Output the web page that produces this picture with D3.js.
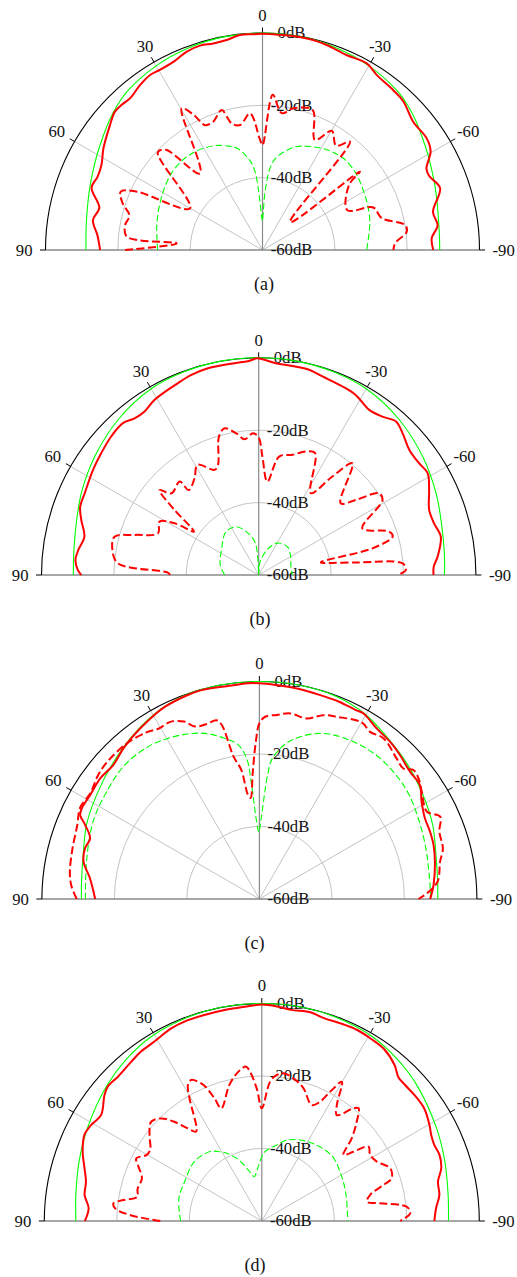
<!DOCTYPE html>
<html>
<head>
<meta charset="utf-8">
<script src="https://cdn.jsdelivr.net/npm/d3@7"></script>
<style>
  body { margin: 0; background: #fff; }
  svg text { font-family: "Liberation Serif", "Times New Roman", Times, serif; fill: #111; }
</style>
</head>
<body>
<div id="chart"></div>
<script>
// tick values
const dbTicks = [0, -20, -40, -60];
const angTicks = [90, 60, 30, 0, -30, -60, -90];
const spokeAngles = [60, 30, -30, -60];

// series: [angle in deg, level in dB], listed from 90 (left) to -90 (right)
const greenSolidA = [[90,-11.2],[85,-11],[80,-10.6],[75,-10],[70,-9.2],[65,-8.3],[60,-7.2],[55,-6],[50,-4.6],[45,-3.3],[40,-2.3],[30,-1.2],[20,-0.5],[10,-0.1],[0,0],[-10,-0.1],[-20,-0.5],[-30,-1.2],[-40,-2.3],[-45,-3.3],[-50,-4.6],[-55,-6],[-60,-7.2],[-65,-8.3],[-70,-9.2],[-75,-10],[-80,-10.6],[-85,-10.9],[-90,-11]];
const redSolidA = [[90,-15.1],[85,-14.2],[80,-12.4],[75.5,-13.4],[70,-9.7],[66,-10.1],[62,-9.6],[57.4,-7.8],[50.7,-5.5],[47,-4.1],[44,-4.1],[41,-4.3],[36.6,-3.2],[32.7,-2.5],[29.7,-2.7],[25,-2.4],[21,-1.3],[17,-0.9],[13.4,-1.3],[9.7,-1.1],[6,-0.2],[2.4,-0.3],[0,-0.2],[-2.9,-0.3],[-8.2,-0.2],[-13.6,-0.3],[-17.4,-0.6],[-23.3,-1.3],[-29.2,-0.9],[-33.1,-2.2],[-39.3,-2.9],[-43.5,-3.4],[-49.6,-5.3],[-55.8,-5.1],[-59.6,-6.1],[-63.6,-9.4],[-66,-9.6],[-70.8,-8],[-77.4,-11.7],[-82,-11.1],[-86,-13.1],[-90,-12.8]];
const greenDashA = [[90,-31],[76,-29.9],[65,-28.8],[55,-27.6],[45,-26.8],[35,-27],[25,-28.2],[18,-29.8],[14,-31],[10,-33.5],[7.5,-35.5],[5.3,-38.5],[3,-46.5],[1,-51.5],[0,-52],[-1.2,-49.4],[-2.5,-44],[-5.2,-37.3],[-8,-34.5],[-12.2,-32.3],[-18,-30],[-24.7,-28.5],[-33,-27],[-41.4,-26.2],[-50,-26.5],[-55,-27.1],[-65,-28.2],[-75.2,-29.3],[-90,-31.2]];
const redDashA = [[90,-22],[85.6,-36.2],[84.4,-22.3],[79.7,-21.4],[75.5,-22],[71.5,-19.2],[67.6,-17.6],[65.1,-21.7],[60.1,-36.9],[47,-20.4],[44,-21.5],[39.2,-32.7],[29.7,-14.9],[27,-18],[24.7,-22],[21,-22],[16.3,-19.7],[13.7,-24],[10.2,-24.9],[5.2,-22.1],[1.3,-29.5],[0,-31],[-3.8,-17],[-8,-21.8],[-12.3,-19.9],[-19.7,-18.9],[-25.5,-26.3],[-30.2,-21.9],[-35.2,-24.7],[-38.9,-21.5],[-44.8,-49.2],[-51.2,-25.4],[-53,-30],[-64.8,-34.1],[-69,-27.2],[-75,-25.9],[-80,-20],[-82.8,-19.8],[-87.1,-23.3],[-90,-23.8]];

const greenSolidB = [[90,-8.8],[84,-8.6],[74,-7.6],[65,-6],[54,-4.1],[42,-2.1],[30,-0.6],[20,-0.2],[10,0],[0,0],[-10,0],[-20,-0.2],[-30,-0.6],[-42,-2.1],[-54,-4.1],[-65,-6],[-74,-7.5],[-84,-8.4],[-90,-8.7]];
const redSolidB = [[90,-11],[88.4,-10],[85.3,-9.2],[82.1,-9.7],[77.6,-10.7],[72.8,-8.7],[69.1,-7.2],[64.9,-6.9],[57.6,-5.8],[52.3,-5],[46.8,-4.1],[41.8,-3.7],[38.4,-4.8],[34.9,-4.9],[30.7,-3.7],[22.8,-2.5],[18.6,-1.7],[13.8,-1.2],[6.5,-1.1],[2.9,-0.9],[0.4,-0.1],[-1,-0.4],[-4.6,-1.3],[-9.2,-1.5],[-13.8,-1.6],[-17.8,-2.4],[-24,-3],[-28.3,-3.5],[-33.8,-5.1],[-38,-4.5],[-41.8,-3.1],[-45.4,-4.2],[-50.3,-5.9],[-55.1,-6],[-58.9,-5.5],[-63.5,-7.4],[-69.1,-9.6],[-73.6,-9.5],[-78.1,-8.6],[-84.1,-10.3],[-87.3,-11.6],[-90,-11.7]];
const greenDashB = [[90,-50.6],[75,-49],[56,-47.6],[37,-45],[24,-45.5],[12,-48.8],[6,-51.2],[3,-55.5],[0,-60],[-4,-57],[-7.6,-55.8],[-18.6,-52.6],[-30.2,-49.8],[-45.3,-48.9],[-60,-49.8],[-75,-50.8],[-90,-50.7]];
const redDashB = [[90,-35.5],[88.5,-34.9],[85.3,-21],[80.3,-19],[75.1,-18.8],[72.1,-24],[67.5,-29.9],[61.7,-28.9],[58.4,-32.7],[56.2,-38.5],[52.3,-30.6],[49.4,-23.9],[46.9,-27],[40.2,-26.2],[39.5,-29.6],[33.5,-27.9],[29.1,-25.2],[22.7,-28.5],[20.3,-27.6],[16,-20.2],[13.1,-18.4],[9,-20.4],[5.9,-22.3],[2.3,-20.8],[0,-22],[-1.8,-27.3],[-5.3,-34.1],[-9.8,-26.8],[-15.7,-25.5],[-20.9,-23.5],[-24.8,-22.9],[-32.5,-33.2],[-36.8,-26],[-40,-19.7],[-48.8,-29.9],[-52.3,-26.1],[-55.8,-19.8],[-58.8,-20],[-65.8,-28.6],[-71.6,-22],[-74,-21.5],[-76.8,-27.7],[-78.5,-42.5],[-82.6,-33],[-85.4,-20.1],[-88,-19.3],[-90,-21.5]];

const greenSolidC = [[90,-10.9],[84.4,-10.7],[76,-9.9],[66.8,-8.1],[57.4,-6.7],[47.8,-5],[38.5,-3.1],[29.4,-1.3],[20,-0.2],[10,0],[0,0],[-10,0],[-20,-0.2],[-29.4,-1.2],[-38.5,-3.2],[-47.8,-4.8],[-57.4,-6.5],[-66.8,-8],[-76,-9.8],[-84.4,-10.6],[-90,-10.8]];
const redSolidC = [[90,-14.7],[83,-12.9],[78,-10.4],[73.8,-9.9],[70.3,-10.4],[67,-7.8],[64.9,-5.4],[63,-5],[58.4,-5.2],[52.9,-4.9],[47.5,-5.3],[42,-4],[35,-2.6],[30,-1.6],[26,-0.9],[20,-0.4],[15.5,-0.2],[6.5,-0.6],[3,-0.4],[0,-0.5],[-4.4,-0.8],[-9.8,-1],[-17.3,-1.3],[-22,-1.3],[-27,-1.5],[-29.3,-1.3],[-34.5,-2.9],[-39.7,-3.6],[-44.3,-4.5],[-49.8,-5.6],[-54.6,-5.7],[-59,-7.8],[-64,-9.2],[-68.5,-9.4],[-72.8,-9.7],[-78,-10.5],[-85.4,-11.8],[-90,-12.9]];
const greenDashC = [[90,-12],[77.8,-11.2],[65,-9.4],[54.9,-8.5],[45.1,-7.6],[35,-8.1],[25.4,-9.9],[18.2,-11.9],[12.1,-14.7],[7.8,-17.1],[5.2,-21],[3.9,-28.5],[2.6,-36.8],[0.5,-41.6],[-0.5,-40],[-2,-35],[-3.8,-25.7],[-5.3,-21],[-10.7,-15.8],[-19.9,-11.4],[-29.5,-9.6],[-39,-8.9],[-47.7,-9.1],[-55.2,-9.7],[-64.2,-11],[-73.1,-12],[-82,-12.7],[-90,-12.7]];
const redDashC = [[90,-9.6],[86,-8],[82,-7.2],[75,-6.6],[68,-5.8],[63,-4.5],[58,-5],[52.5,-3.9],[48,-3.5],[40.5,-3.6],[34,-4.5],[30.5,-5.4],[26.7,-5.3],[23,-6.8],[20.5,-9.2],[17,-9.6],[13.5,-9.3],[12.2,-10.9],[10.3,-20],[8,-24],[6.3,-31],[5,-32],[3,-25],[1.3,-16.6],[0,-11.5],[-1.8,-9.7],[-5.4,-9],[-9.4,-8.1],[-14.7,-8.5],[-19.2,-6.3],[-23,-5.4],[-30.1,-3.7],[-33.5,-4.7],[-37.7,-4],[-44.3,-5.8],[-47.8,-6.4],[-50,-4.6],[-52.8,-4.9],[-56.5,-6.3],[-62.4,-7.9],[-65.5,-5.2],[-69.5,-7],[-74.6,-7.5],[-78.3,-9.1],[-84.4,-10.6],[-88.1,-13.8],[-90,-16.1]];

const greenSolidD = [[90,-8.7],[82,-8.2],[72,-7],[62,-5.5],[48.6,-3.2],[40,-1.8],[31,-0.7],[20,-0.2],[10,0],[0,0],[-10,0],[-20,-0.2],[-31,-0.7],[-40,-1.8],[-48.6,-3.1],[-62,-5.4],[-72,-6.9],[-82,-8.1],[-90,-8.5]];
const redSolidD = [[90,-11.2],[85.8,-12.1],[81.7,-10.6],[77.4,-10.3],[73.5,-9],[68.8,-7],[64.1,-5.6],[60.6,-6],[56.6,-6.9],[51.3,-4.4],[48.9,-3.6],[44.9,-3.8],[39.4,-3.2],[35.5,-2.6],[30.9,-2.3],[25.2,-1.3],[21.2,-1],[15.6,-1],[10,-0.9],[4.6,-0.7],[0,-0.3],[-4.3,-0.7],[-7.9,-1.2],[-13.3,-0.9],[-17.2,-1.5],[-21.9,-1.3],[-26.7,-1.1],[-30.9,-1.4],[-35.4,-1.8],[-40.4,-3.5],[-43.6,-5.3],[-46.4,-5.5],[-50.5,-5.4],[-55.3,-5.5],[-60.2,-6.7],[-63.1,-7.6],[-66.2,-8],[-69.6,-7.7],[-73.6,-8.4],[-77.4,-10.2],[-81.7,-10.5],[-85.8,-11.8],[-90,-12.4]];
const greenDashD = [[90,-37.6],[75,-36.3],[63,-36.1],[48.6,-35.2],[36.7,-36.1],[32.4,-37.3],[27.3,-39],[21,-41.8],[14.7,-45.5],[9.6,-47.6],[5.5,-46],[3,-44.5],[-2.2,-41],[-11.2,-38.6],[-17.8,-36.5],[-30,-34.7],[-46.4,-33.6],[-60,-34.7],[-73,-35.7],[-90,-36.3]];
const redDashD = [[90,-32],[87.4,-23.6],[85.1,-19.4],[83.2,-18.8],[81.4,-21.4],[79,-25],[75.5,-24.6],[70.4,-24.9],[65.7,-22.5],[63.5,-21.3],[60.1,-23.4],[57.2,-23.4],[52.6,-21],[48.1,-19],[44.4,-20.4],[41.6,-23.3],[38.6,-27.3],[36.3,-29.4],[30.5,-20.7],[28.5,-17.3],[26.6,-16.5],[23.2,-19.2],[21.1,-23.7],[19.8,-27],[13.4,-21.4],[8.9,-18.3],[5.8,-17.2],[4.6,-18.5],[2.2,-23.4],[0,-28.9],[-3.4,-21.5],[-5.9,-19.5],[-8.3,-18.8],[-12.5,-19.7],[-17.4,-21.6],[-23.3,-25.2],[-26,-23.4],[-27.9,-19.6],[-29.9,-15.7],[-32.9,-21.9],[-35.3,-24.2],[-39.1,-19.9],[-40.6,-19],[-43.7,-22.1],[-47.4,-26.3],[-51,-31],[-52.9,-28.3],[-55.1,-24.1],[-58.6,-25],[-62.7,-24.3],[-67.7,-21.7],[-71.8,-22.3],[-73.5,-25],[-76.5,-29.3],[-79.6,-30.5],[-81.5,-27],[-84.4,-19.8],[-87,-19],[-90,-21.8]];

const captions = ["(a)", "(b)", "(c)", "(d)"];

// layout of the four half-polar panels
const panels = [
  {cx: 262.5, cy: 250,  R: 217,   capX: 264, capY: 289.5, gs: greenSolidA, gd: greenDashA, rd: redDashA, rs: redSolidA},
  {cx: 258.7, cy: 575,  R: 217.2, capX: 260, capY: 625,   gs: greenSolidB, gd: greenDashB, rd: redDashB, rs: redSolidB},
  {cx: 259.4, cy: 899,  R: 217.5, capX: 254.5, capY: 949, gs: greenSolidC, gd: greenDashC, rd: redDashC, rs: redSolidC},
  {cx: 261.8, cy: 1221, R: 217.5, capX: 255, capY: 1271,  gs: greenSolidD, gd: greenDashD, rd: redDashD, rs: redSolidD}
];

const svg = d3.select("#chart")
  .append("svg")
  .attr("width", 517)
  .attr("height", 1277)
  .attr("font-family", "'Liberation Serif', 'Times New Roman', Times, serif");

const fontSize = 16.7;

function drawPanel(p, i) {
  const g = svg.append("g").attr("transform", `translate(${p.cx},${p.cy})`);
  const r = d3.scaleLinear().domain([-60, 0]).range([0, p.R]).clamp(true);
  const toRad = d => -d * Math.PI / 180;

  // half rings at -20 and -40 dB
  function halfArc(rr) {
    const path = d3.path();
    path.moveTo(-rr, 0);
    path.arc(0, 0, rr, Math.PI, 2 * Math.PI);
    return path.toString();
  }
  g.selectAll(".ring")
    .data(dbTicks.filter(d => d > -60 && d < 0))
    .join("path")
    .attr("class", "ring")
    .attr("d", d => halfArc(r(d)))
    .attr("fill", "none")
    .attr("stroke", "#c4c4c4")
    .attr("stroke-width", 1);

  // spokes
  g.selectAll(".spoke")
    .data(spokeAngles)
    .join("line")
    .attr("class", "spoke")
    .attr("x1", 0).attr("y1", 0)
    .attr("x2", d => r(0) * Math.sin(toRad(d)))
    .attr("y2", d => -r(0) * Math.cos(toRad(d)))
    .attr("stroke", "#c4c4c4")
    .attr("stroke-width", 1);

  // centre spoke and base line
  g.append("line")
    .attr("x1", 0).attr("y1", 0).attr("x2", 0).attr("y2", -r(0))
    .attr("stroke", "#8a8a8a").attr("stroke-width", 1.2);
  g.append("line")
    .attr("x1", -r(0)).attr("y1", 0).attr("x2", r(0)).attr("y2", 0)
    .attr("stroke", "#8a8a8a").attr("stroke-width", 1.4);

  // outer boundary
  g.append("path")
    .attr("d", halfArc(r(0)))
    .attr("fill", "none")
    .attr("stroke", "#000")
    .attr("stroke-width", 1.1);

  // ticks
  g.selectAll(".tick")
    .data(angTicks)
    .join("line")
    .attr("class", "tick")
    .attr("x1", d => r(0) * Math.sin(toRad(d)))
    .attr("y1", d => -r(0) * Math.cos(toRad(d)))
    .attr("x2", d => (r(0) + 5.5) * Math.sin(toRad(d)))
    .attr("y2", d => -(r(0) + 5.5) * Math.cos(toRad(d)))
    .attr("stroke", "#000")
    .attr("stroke-width", 1);

  // angle labels
  g.selectAll(".alabel")
    .data(angTicks)
    .join("text")
    .attr("class", "alabel")
    .attr("font-size", fontSize)
    .attr("text-anchor", d => Math.abs(d) === 90 ? (d > 0 ? "end" : "start") : "middle")
    .attr("x", d => {
      if (Math.abs(d) === 90) return d > 0 ? -(r(0) + 13) : r(0) + 13;
      const off = Math.abs(d) >= 60 ? 20.5 : 18;
      return (r(0) + off) * Math.sin(toRad(d));
    })
    .attr("y", d => {
      if (Math.abs(d) === 90) return 0;
      const off = Math.abs(d) >= 60 ? 20.5 : 18;
      return -(r(0) + off) * Math.cos(toRad(d));
    })
    .attr("dy", "0.35em")
    .text(d => d);

  // dB labels
  g.selectAll(".dblabel")
    .data(dbTicks)
    .join("text")
    .attr("class", "dblabel")
    .attr("font-size", fontSize)
    .attr("text-anchor", "middle")
    .attr("x", 29)
    .attr("y", d => -r(d))
    .attr("dy", "0.32em")
    .text(d => d + "dB");

  const line = d3.lineRadial()
    .angle(d => toRad(d[0]))
    .radius(d => r(d[1]))
    .curve(d3.curveCatmullRom.alpha(0.5));

  g.append("path").datum(p.gs)
    .attr("d", line).attr("fill", "none")
    .attr("stroke", "#00ff00").attr("stroke-width", 1.1);
  g.append("path").datum(p.gd)
    .attr("d", line).attr("fill", "none")
    .attr("stroke", "#00ff00").attr("stroke-width", 1.1)
    .attr("stroke-dasharray", "6.5,3");
  g.append("path").datum(p.rd)
    .attr("d", line).attr("fill", "none")
    .attr("stroke", "#ff0000").attr("stroke-width", 2)
    .attr("stroke-dasharray", "8,3.5");
  g.append("path").datum(p.rs)
    .attr("d", line).attr("fill", "none")
    .attr("stroke", "#ff0000").attr("stroke-width", 2);

  svg.append("text")
    .attr("x", p.capX)
    .attr("y", p.capY)
    .attr("font-size", 18)
    .attr("text-anchor", "middle")
    .text(captions[i]);
}

panels.forEach((p, i) => drawPanel(p, i));
</script>
</body>
</html>
